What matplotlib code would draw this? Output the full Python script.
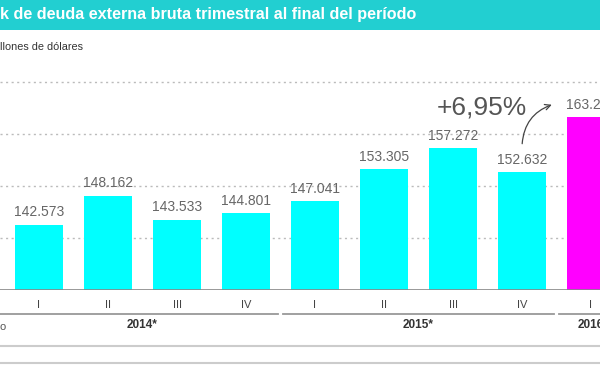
import matplotlib
matplotlib.use('Agg')
import matplotlib.pyplot as plt
from matplotlib.patches import Rectangle

# datos (millones de dólares)
quarters = ['I', 'II', 'III', 'IV', 'I', 'II', 'III', 'IV', 'I']
values = [142.573, 148.162, 143.533, 144.801, 147.041, 153.305, 157.272, 152.632, 163.240]
value_labels = ['142.573', '148.162', '143.533', '144.801', '147.041',
                '153.305', '157.272', '152.632', '163.240']
years = ['2014*', '2015*', '2016']
year_spans = [(0, 3), (4, 7), (8, 8)]
growth_label = '+6,95%'

title = 'k de deuda externa bruta trimestral al final del período'
subtitle = 'llones de dólares'

W, H = 600, 365
plt.rcParams['font.family'] = ['Liberation Sans', 'DejaVu Sans']

fig = plt.figure(figsize=(W / 100, H / 100), dpi=100)

# banda del título
fig.patches.append(Rectangle((0, 1 - 30 / H), 1, 30 / H, transform=fig.transFigure,
                             facecolor='#22cfd1', edgecolor='none', zorder=0))
fig.text(0, 1 - 15 / H, title, color='white', fontsize=11.6, fontweight='bold',
         va='center', ha='left')
fig.text(0, 1 - 47 / H, subtitle, color='#333333', fontsize=7.8, va='center', ha='left')

# ejes: línea base en y=290 px, 5.2 px por unidad
ax = fig.add_axes([0, 75 / H, 1, 250 / H])
xmin = -39 / 69
ax.set_xlim(xmin, (W - 39) / 69)
ax.set_ylim(130, 130 + 250 / 5.2)
ax.axis('off')

for g in [140, 150, 160, 170]:
    ax.axhline(g, color='#bbbbbb', lw=1, linestyle=(0, (1.5, 2.5)), zorder=0)

colors = ['#00ffff'] * 8 + ['#ff00ff']
x = list(range(len(values)))
ax.bar(x, [v - 130 for v in values], bottom=130, width=48 / 69, color=colors, zorder=2)

for xi, v, lab in zip(x, values, value_labels):
    ax.text(xi, v + 1.0, lab, ha='center', va='bottom', fontsize=10, color='#666666')

ax.axhline(130, color='#888888', lw=1.2, zorder=3)

# etiquetas del eje x
tr = ax.get_xaxis_transform()
for xi, q in zip(x, quarters):
    ax.text(xi, -0.06, q, transform=tr, ha='center', va='center', fontsize=8,
            color='#444444', clip_on=False)

for i, ((a, b), yr) in enumerate(zip(year_spans, years)):
    x0 = xmin if i == 0 else a - 0.5 + 0.04
    ax.plot([x0, b + 0.5 - 0.04], [-0.096, -0.096], transform=tr,
            color='#999999', lw=1.3, clip_on=False)
    ax.text((a + b) / 2, -0.14, yr, transform=tr, ha='center', va='center',
            fontsize=8.5, fontweight='bold', color='#333333', clip_on=False)

fig.text(0, 1 - 327 / H, 'o', color='#555555', fontsize=8, va='center', ha='left')

for yy in [346, 363]:
    fig.add_artist(plt.Line2D([0, 1], [1 - yy / H, 1 - yy / H], transform=fig.transFigure,
                              color='#cccccc', lw=1.5))

# anotación de crecimiento
ax.text(6.42, 165, growth_label, ha='center', va='center', fontsize=19, color='#555555')
ax.annotate('', xy=(7.47, 165.8), xytext=(7.0, 157.6),
            arrowprops=dict(arrowstyle='->', color='#444444', lw=0.9,
                            connectionstyle='arc3,rad=-0.35'))

fig.savefig('out.png', dpi=100)
